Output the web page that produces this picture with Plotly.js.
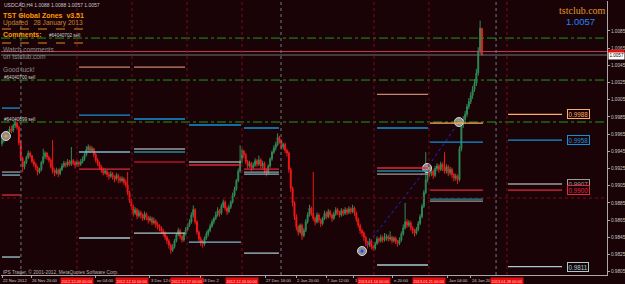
<!DOCTYPE html>
<html><head><meta charset="utf-8">
<script src="https://cdn.plot.ly/plotly-3.0.1.min.js"></script>
<style>html,body{margin:0;padding:0;background:#1a0306;}#chart{width:625px;height:284px;}</style>
</head><body><div id="chart"></div>
<script>
// ---- price data (pips, price*10000), USDCAD H4 ----
const opens = [9954,9958,9963,9961,9967,9971,9969,9975,9978,9973,
9955,9937,9927,9932,9938,9943,9940,9933,9930,9926,
9921,9924,9932,9939,9943,9938,9935,9927,9922,9920,
9923,9919,9924,9928,9931,9929,9933,9930,9934,9932,
9929,9932,9930,9933,9936,9941,9947,9950,9946,9948,
9941,9935,9931,9927,9923,9920,9922,9918,9916,9919,
9915,9913,9917,9914,9911,9913,9909,9906,9897,9888,
9881,9873,9877,9870,9874,9871,9867,9872,9868,9865,
9867,9862,9864,9860,9858,9856,9852,9850,9845,9841,
9836,9830,9834,9841,9848,9853,9846,9842,9849,9854,
9859,9863,9871,9877,9863,9851,9843,9839,9837,9844,
9849,9853,9858,9863,9867,9871,9876,9873,9881,9886,
9879,9875,9880,9886,9894,9901,9911,9922,9934,9945,
9941,9933,9928,9931,9926,9929,9934,9930,9935,9928,
9931,9923,9920,9928,9936,9944,9949,9953,9961,9957,
9950,9953,9946,9943,9924,9902,9885,9869,9857,9851,
9859,9847,9853,9863,9871,9879,9873,9867,9863,9871,
9865,9861,9867,9873,9869,9875,9871,9867,9872,9877,
9874,9871,9876,9873,9877,9874,9878,9875,9879,9873,
9866,9859,9853,9850,9845,9839,9836,9841,9834,9832,
9838,9843,9841,9845,9842,9844,9846,9843,9845,9841,
9844,9840,9838,9842,9849,9856,9863,9859,9862,9856,
9852,9850,9854,9861,9869,9881,9897,9912,9924,9919,
9922,9917,9925,9928,9924,9930,9926,9922,9927,9920,
9924,9918,9914,9916,9912,9948,9976,9982,9988,9997,
10003,10010,10017,10024,10036,10062,10088];
const highs = [9961,9965,9967,9969,9974,9975,9977,9982,9980,9975,
9957,9939,9934,9940,9946,9945,9941,9936,9932,9928,
9926,9934,9948,9945,9944,9940,9937,9958,9925,9926,
9925,9926,9931,9934,9933,9936,9935,9950,9936,9934,
9935,9934,9936,9939,9943,9951,9953,9952,9951,9949,
9943,9937,9933,9929,9926,9925,9924,9921,9922,9921,
9917,9920,9919,9916,9916,9915,9912,9921,9899,9890,
9883,9880,9879,9877,9876,9873,9875,9874,9870,9870,
9869,9868,9866,9863,9860,9858,9855,9852,9847,9843,
9838,9837,9843,9850,9856,9855,9848,9851,9857,9861,
9866,9874,9882,9879,9865,9853,9846,9842,9846,9852,
9855,9861,9866,9869,9875,9880,9878,9884,9889,9888,
9881,9883,9888,9897,9904,9913,9925,9952,9948,9947,
9943,9935,9934,9933,9932,9937,9936,9940,9937,9934,
9933,9925,9930,9938,9946,9952,9956,9966,9963,9959,
9955,9955,9948,9945,9926,9904,9887,9872,9859,9861,
9861,9856,9866,9874,9883,9881,9921,9869,9874,9873,
9867,9869,9876,9875,9878,9877,9873,9875,9880,9879,
9876,9879,9878,9880,9879,9881,9880,9883,9881,9875,
9868,9861,9855,9852,9847,9841,9844,9843,9836,9840,
9846,9845,9848,9847,9850,9849,9848,9852,9847,9846,
9846,9842,9845,9852,9860,9885,9866,9865,9864,9858,
9855,9857,9864,9872,9884,9900,9944,9927,9926,9925,
9924,9928,9931,9930,9933,9932,9944,9930,9929,9927,
9926,9920,9919,9918,9951,9980,9986,9992,10000,10007,
10014,10021,10029,10041,10066,10097,10088];
const lows = [9951,9955,9958,9959,9964,9966,9967,9972,9970,9952,
9934,9921,9924,9930,9936,9937,9931,9927,9923,9917,
9919,9922,9930,9936,9935,9932,9925,9919,9916,9918,
9915,9917,9922,9926,9926,9927,9928,9928,9929,9925,
9927,9927,9928,9931,9934,9939,9944,9943,9944,9938,
9932,9928,9924,9920,9917,9918,9915,9912,9914,9912,
9909,9911,9908,9908,9909,9906,9903,9894,9885,9877,
9869,9871,9866,9868,9867,9864,9865,9865,9861,9863,
9859,9860,9856,9854,9852,9849,9846,9842,9837,9832,
9826,9828,9832,9839,9846,9843,9839,9840,9847,9852,
9857,9861,9868,9860,9848,9840,9835,9833,9835,9842,
9846,9851,9856,9860,9865,9869,9869,9871,9879,9876,
9871,9873,9878,9884,9892,9899,9909,9920,9931,9937,
9930,9925,9926,9922,9924,9927,9927,9928,9925,9925,
9919,9916,9918,9926,9934,9942,9946,9951,9954,9947,
9947,9943,9939,9920,9898,9881,9865,9853,9847,9849,
9842,9845,9851,9861,9869,9870,9864,9859,9861,9862,
9857,9859,9865,9866,9867,9868,9863,9865,9870,9871,
9868,9869,9870,9871,9871,9872,9872,9873,9870,9863,
9856,9849,9846,9841,9835,9832,9834,9831,9829,9830,
9836,9838,9839,9839,9840,9841,9840,9841,9838,9839,
9837,9834,9836,9840,9847,9854,9856,9857,9853,9849,
9846,9848,9852,9859,9867,9879,9895,9909,9915,9916,
9913,9915,9922,9920,9922,9922,9919,9919,9916,9917,
9914,9910,9911,9907,9910,9945,9972,9979,9985,9994,
10000,10006,10014,10021,10033,10058,10057];
const closes = [9958,9963,9961,9967,9971,9969,9975,9978,9973,9955,
9937,9927,9932,9938,9943,9940,9933,9930,9926,9921,
9924,9932,9939,9943,9938,9935,9927,9922,9920,9923,
9919,9924,9928,9931,9929,9933,9930,9934,9932,9929,
9932,9930,9933,9936,9941,9947,9950,9946,9948,9941,
9935,9931,9927,9923,9920,9922,9918,9916,9919,9915,
9913,9917,9914,9911,9913,9909,9906,9897,9888,9881,
9873,9877,9870,9874,9871,9867,9872,9868,9865,9867,
9862,9864,9860,9858,9856,9852,9850,9845,9841,9836,
9830,9834,9841,9848,9853,9846,9842,9849,9854,9859,
9863,9871,9877,9863,9851,9843,9839,9837,9844,9849,
9853,9858,9863,9867,9871,9876,9873,9881,9886,9879,
9875,9880,9886,9894,9901,9911,9922,9934,9945,9941,
9933,9928,9931,9926,9929,9934,9930,9935,9928,9931,
9923,9920,9928,9936,9944,9949,9953,9961,9957,9950,
9953,9946,9943,9924,9902,9885,9869,9857,9851,9859,
9847,9853,9863,9871,9879,9873,9867,9863,9871,9865,
9861,9867,9873,9869,9875,9871,9867,9872,9877,9874,
9871,9876,9873,9877,9874,9878,9875,9879,9873,9866,
9859,9853,9850,9845,9839,9836,9841,9834,9832,9838,
9843,9841,9845,9842,9844,9846,9843,9845,9841,9844,
9840,9838,9842,9849,9856,9863,9859,9862,9856,9852,
9850,9854,9861,9869,9881,9897,9912,9924,9919,9922,
9917,9925,9928,9924,9930,9926,9922,9927,9920,9924,
9918,9914,9916,9912,9948,9976,9982,9988,9997,10003,
10010,10017,10024,10036,10062,10088,10057];

// price axis ticks
const priceTicks = [0.9805,0.9825,0.9845,0.9865,0.9885,0.9905,0.9925,0.9945,0.9965,0.9985,1.0005,1.0025,1.0045,1.0065,1.0085];
// time-axis label text as visible (bar index where each starts)
const timeLabelIdx = [0, 15.5, 50, 78.9, 106, 140.3, 156.8, 172.8, 187.7, 208.5, 237.8, 250.1];
const timeLabelText = ["22 Nov 2012","26 Nov 20:00","ov 04:00","3 Dec 12:00","18 Dec 2","27 Dec 16:00","2 Jan 20:00","7 Jan 12:00","1","n 20:00","Jan 04:00","24 Jan 20"];
// weekly separator lines (bar index) and their dates
const sepIdx = [40, 69.3, 98.7, 128, 198.4, 227.7, 269.3];
const sepText = ["2012.12.03 00:00","2012.12.10 00:00","2012.12.17 00:00","2012.12.24 00:00","2013.01.14 00:00","2013.01.21 00:00","2013.01.28 00:00"];
const monthSepIdx = [10.1, 148.8, 263.5];
// zone weeks
const weekStart = [0, 41.1, 70.4, 99.7, 129.1, 200, 228.3, 269.9];
const weekEnd   = [9.6, 68.3, 97.6, 127.5, 147.7, 227.2, 256.5, 298.7];
// zone levels
const zoneWeek  = [0,0,0,0,0, 1,1,1,1,1, 2,2,2,2,2,2, 3,3,3,3, 4,4,4,4,4, 5,5,5,5,5,5, 6,6,6,6,6, 7,7,7,7,7];
const zoneKind  = ['blue','gray','cyan','red','lcyan',
  'tan','blue','cyan','red','lcyan',
  'tan','blue','gray','teal','dred','lcyan',
  'blue','gray','red','cyan',
  'blue','red','gray','cyan','lcyan',
  'tan','blue','red','teal','gray','lcyan',
  'orange','blue','red','teal','gray',
  'orange','blue','gray','red','lcyan'];
const zonePrice = [0.99953,0.99209,0.99174,0.98942,0.98221,
  1.0043,0.99872,0.99442,0.99244,0.98442,
  1.0043,0.99826,0.99477,0.99442,0.99326,0.98500,
  0.99756,0.99326,0.99291,0.98395,
  0.99721,0.99244,0.99209,0.99186,0.98267,
  1.00112,0.99721,0.99256,0.99221,0.99186,0.98128,
  0.99779,0.99558,0.99000,0.98895,0.98872,
  0.9988,0.9958,0.9907,0.9900,0.9811];
// trade order lines
const orderPrice = [1.00767, 1.00279, 0.99791];
const orderLabel = ["#64040702 sell", "#64040700 sell", "#64040699 sell"];
const pivotLevel = 0.98907;
const bid = 1.0057, ask = 1.0061;
// pivot circles
const pivotIdx = [2.1, 192, 226.7, 243.7];
const pivotPrice = [0.99628, 0.98291, 0.99256, 0.99791];

// ---- styles ----
const BG = '#1a0306';
const zoneColor = {blue:'#1292d8', gray:'#9c9c9c', cyan:'#78bccb', red:'#e2283e', lcyan:'#a4cccf',
  tan:'#c8866e', teal:'#1d8e9c', dred:'#b3122c', orange:'#ffaa66'};
const P = v => v/10000;
const idx = closes.map((_, i) => i);
const px = x => (x - 1) / 606;
const py = y => (275 - y) / 274;

const traces = [{
  type:'candlestick', x: idx, open: opens.map(P), high: highs.map(P), low: lows.map(P), close: closes.map(P),
  increasing:{line:{color:'#2e8b57', width:1}, fillcolor:'#2e8b57'},
  decreasing:{line:{color:'#f01818', width:1}, fillcolor:'#ff1e1e'},
  whiskerwidth:0, hoverinfo:'skip'
},{
  type:'scatter', mode:'lines', x: pivotIdx.slice(1), y: pivotPrice.slice(1),
  line:{color:'#1a2ad0', width:1, dash:'dot'}, hoverinfo:'skip'
},{
  type:'scatter', mode:'markers', x: pivotIdx, y: pivotPrice,
  marker:{size:9, color:'#8c8c8c', line:{color:'#d8d8d8', width:1}}, hoverinfo:'skip'
},{
  type:'scatter', mode:'markers', x: pivotIdx, y: pivotPrice,
  marker:{size:3, color:['#ff9a20','#2040ff','#ff9090','#ffa020']}, hoverinfo:'skip'
}];

const shapes = [];
orderPrice.forEach(p => shapes.push({type:'line', xref:'paper', x0:0, x1:1, yref:'y', y0:p, y1:p, line:{color:'#1c9a1c', width:1, dash:'dashdot'}}));
shapes.push({type:'line', xref:'paper', x0:0, x1:1, yref:'y', y0:pivotLevel, y1:pivotLevel, line:{color:'#7a0c1a', width:1, dash:'dot'}});
shapes.push({type:'line', xref:'paper', x0:0, x1:1, yref:'y', y0:ask, y1:ask, line:{color:'#c83c5a', width:1}});
shapes.push({type:'line', xref:'paper', x0:0, x1:1, yref:'y', y0:bid, y1:bid, line:{color:'#707070', width:1}});
shapes.push({type:'rect', xref:'paper', x0:1.0018, x1:1.029, yref:'y', y0:ask - 0.00022, y1:ask + 0.00022, line:{width:0}, fillcolor:'#e01010'});
sepIdx.forEach(x => shapes.push({type:'line', xref:'x', x0:x, x1:x, yref:'paper', y0:0, y1:1, line:{color:'#7c0c1c', width:1, dash:'dot'}}));
monthSepIdx.forEach(x => shapes.push({type:'line', xref:'x', x0:x, x1:x, yref:'paper', y0:0, y1:1, line:{color:'#6c7c8c', width:1, dash:'dot'}}));
zonePrice.forEach((p, k) => {
  const w = zoneWeek[k];
  shapes.push({type:'line', xref:'x', x0:weekStart[w], x1:weekEnd[w], yref:'y', y0:p, y1:p, line:{color:zoneColor[zoneKind[k]], width:1.3}});
});
[29, 43].forEach(y => shapes.push({type:'line', xref:'paper', x0:px(2), x1:px(90), yref:'paper', y0:py(y), y1:py(y), line:{color:'#e08a20', width:1, dash:'dash'}}));

const F = 'Liberation Sans, Arial, sans-serif';
const ann = [];
const txt = (x, y, text, size, color, extra) => ann.push(Object.assign({xref:'paper', yref:'paper', x:px(x), y:py(y), xanchor:'left', yanchor:'middle', text, showarrow:false, borderpad:0, font:{family:F, size, color}}, extra||{}));
const last = closes.length - 1;
txt(3, 4.5, 'USDCAD,H4 ' + [opens[last], highs[last], lows[last], closes[last]].map(v => P(v).toFixed(4)).join(' '), 5, '#c8c8c8');
txt(2, 15, '<b>TST Global Zones  v3.51</b>', 7, '#ff9c00');
txt(2, 23.5, 'Updated   28 January 2013', 6.6, '#c4862e');
txt(2, 34, '<b>Comments:</b>', 7, '#ff9c00');
txt(2, 49, 'Watch comments', 6.6, '#8c8c8c');
txt(2, 56.5, 'on tstclub.com', 6.6, '#8c8c8c');
txt(2, 70, 'Good luck!', 6.6, '#8c8c8c');
orderPrice.forEach((p, k) => ann.push({xref:'paper', yref:'y', x:k === 0 ? px(48) : px(3), y:p, yshift:3, xanchor:'left', yanchor:'middle', text:orderLabel[k], showarrow:false, borderpad:0, font:{family:F, size:4.6, color:'#d0d0d0'}}));
txt(558, 11, 'tstclub.com', 10, '#e0962c', {font:{family:'Liberation Serif, serif', size:10, color:'#e0962c'}});
txt(565, 22, P(closes[last]).toFixed(4), 9.5, '#1e82ff');
txt(2, 271.5, 'IPS Trader, © 2001-2012, MetaQuotes Software Corp.', 4.8, '#b4b4b4');
timeLabelIdx.forEach((x, k) => ann.push({xref:'x', yref:'paper', x:x, y:-0.009, xanchor:'left', yanchor:'top', text:timeLabelText[k], showarrow:false, borderpad:0, font:{family:F, size:4.2, color:'#c8c8c8'}}));
sepIdx.forEach((x, k) => ann.push({xref:'x', yref:'paper', x:x, y:-0.006, xanchor:'center', yanchor:'top', text:sepText[k], showarrow:false, bgcolor:'#e80e0e', borderpad:0.5, font:{family:F, size:3.9, color:'#ffd8d8'}}));
zonePrice.forEach((p, k) => { if (zoneWeek[k] === 7) ann.push({xref:'x', yref:'y', x:weekEnd[7] + 2.6, y:p, xanchor:'left', yanchor:'middle', text:p.toFixed(4), showarrow:false, bgcolor:BG, bordercolor:zoneColor[zoneKind[k]], borderwidth:1, borderpad:0.5, font:{family:F, size:6.3, color:zoneColor[zoneKind[k]]}}); });
ann.push({xref:'paper', yref:'y', x:1.0018, y:bid, yshift:-1, xanchor:'left', yanchor:'middle', text:bid.toFixed(4), showarrow:false, bgcolor:'#ffffff', borderpad:0.4, font:{family:F, size:4.6, color:'#000000'}});

const layout = {
  width:625, height:284, margin:{l:1, r:18, t:1, b:9},
  paper_bgcolor:BG, plot_bgcolor:BG, showlegend:false,
  xaxis:{range:[-0.533, 322.67], showgrid:false, zeroline:false, showline:true, linecolor:'#a8a8a8', linewidth:1,
         ticks:'outside', ticklen:2, tickcolor:'#a8a8a8', tickvals:timeLabelIdx, showticklabels:false,
         rangeslider:{visible:false}, fixedrange:true},
  yaxis:{range:[0.98012, 1.01198], side:'right', showgrid:false, zeroline:false, showline:true, linecolor:'#a8a8a8', linewidth:1,
         ticks:'outside', ticklen:2, tickcolor:'#a8a8a8', tickvals:priceTicks, ticktext:priceTicks.map(v => v.toFixed(4)),
         tickfont:{family:F, size:4.7, color:'#c8c8c8'}, fixedrange:true},
  shapes, annotations:ann
};
Plotly.newPlot('chart', traces, layout, {staticPlot:true, displayModeBar:false});
</script></body></html>
